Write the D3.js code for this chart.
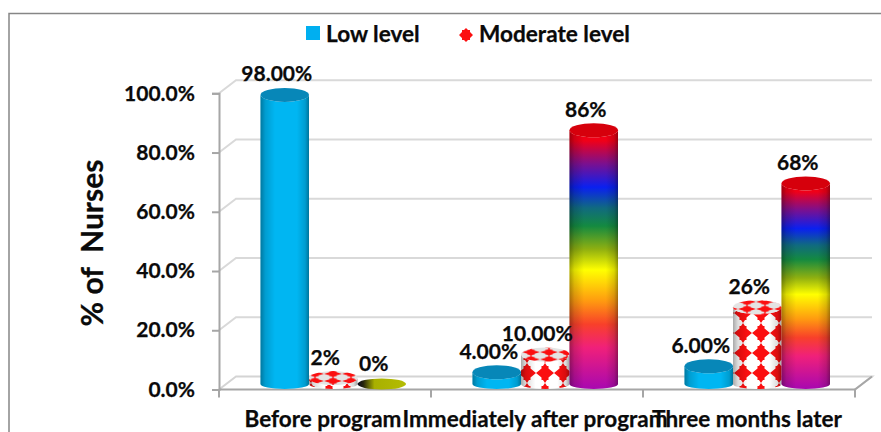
<!DOCTYPE html>
<html>
<head>
<meta charset="utf-8">
<script src="https://cdn.jsdelivr.net/npm/d3@7"></script>
<style>
  html, body { margin: 0; padding: 0; background: #fff; overflow: hidden; }
  text { font-family: Lato, "Open Sans", sans-serif; font-weight: 700; fill: #0a0a0a; stroke: #0a0a0a; stroke-width: 0.25px; }
</style>
</head>
<body>
<div id="chart"></div>
<script>
// Chart values
var categories = ["Before program", "Immediately after program", "Three months later"];
var lowLevel = [98, 4, 6];
var moderateLevel = [2, 10, 26];
var thirdLevel = [0, 86, 68];
var lowLabels = ["98.00%", "4.00%", "6.00%"];
var moderateLabels = ["2%", "10.00%", "26%"];
var thirdLabels = ["0%", "86%", "68%"];
var legendNames = ["Low level", "Moderate level"];
var yTicks = [0, 20, 40, 60, 80, 100];

var svgWidth = 881;
var svgHeight = 432;

var svg = d3.select("#chart")
  .append("svg")
  .attr("width", svgWidth)
  .attr("height", svgHeight)
  .style("display", "block");

var defs = svg.append("defs");

// Set up gradients and the diamond pattern
function addGradient(id, horizontal, stops) {
  var g = defs.append("linearGradient")
    .attr("id", id)
    .attr("x1", 0).attr("y1", 0)
    .attr("x2", horizontal ? 1 : 0).attr("y2", horizontal ? 0 : 1);
  stops.forEach(function(s) {
    g.append("stop")
      .attr("offset", s[0])
      .attr("stop-color", s[1])
      .attr("stop-opacity", s[2] === undefined ? 1 : s[2]);
  });
}

addGradient("shade", true, [
  [0, "#000", 0.34], [0.1, "#000", 0.14], [0.3, "#000", 0], [0.75, "#000", 0], [0.92, "#000", 0.14], [1, "#000", 0.36]
]);
addGradient("rainbow", false, [
  [0, "#f00010"], [0.04, "#f00018"], [0.13, "#7a1090"], [0.22, "#0a20f0"], [0.3, "#106a80"],
  [0.37, "#148a40"], [0.46, "#90b010"], [0.54, "#ffff00"], [0.66, "#ff9a10"], [0.75, "#f8402a"],
  [0.84, "#f0207a"], [1, "#a808b0"]
]);
addGradient("zeroFill", true, [
  [0, "#0a0a20"], [0.12, "#26240c"], [0.35, "#a8b000"], [1, "#b4bc04"]
]);

function addDiamonds(id, bg, transform) {
  var p = defs.append("pattern")
    .attr("id", id)
    .attr("patternUnits", "userSpaceOnUse")
    .attr("width", 18).attr("height", 20)
    .attr("patternTransform", transform);
  p.append("rect").attr("width", 18).attr("height", 20).attr("fill", bg);
  p.append("path")
    .attr("d", "M9,0L11,3L12.5,3L12.5,5.5L18,10L12.5,14.5L12.5,17L11,17L9,20L7,17L5.5,17L5.5,14.5L0,10L5.5,5.5L5.5,3L7,3Z")
    .attr("fill", "#fb0f10");
}
addDiamonds("diamonds", "#ffffff", "translate(14,3)");
addDiamonds("diamondsTop", "#e4e4e4", "translate(0,3) scale(1,0.36)");

// Scales
var axisLeftX = 219;
var axisRightX = 855;
var depthX = 17;
var depthY = 13;

var yScale = d3.scaleLinear().domain([0, 100]).range([389.5, 93.3]);
var barScale = d3.scaleLinear().domain([0, 100]).range([384, 89]);
var xBand = d3.scaleBand().domain(categories).range([axisLeftX, axisRightX]);
var seriesBand = d3.scaleBand().domain([0, 1, 2]).range([0, 145.5]);

// Outer frame, top and left only
svg.append("path")
  .attr("d", "M9,432V13.5H881")
  .attr("fill", "none")
  .attr("stroke", "#868686")
  .attr("stroke-width", 1.5);

// Back wall gridlines and side wall
var wall = svg.append("g").attr("fill", "none");
wall.selectAll(".grid")
  .data(yTicks.slice(1))
  .enter()
  .append("path")
  .attr("d", d => `M${axisLeftX},${yScale(d)}l${depthX},${-depthY}H${axisRightX + depthX}`)
  .attr("stroke", "#d9d9d9")
  .attr("stroke-width", 2);

// Floor
wall.append("path")
  .attr("d", `M${axisLeftX},${yScale(0)}l${depthX},${-depthY}H${axisRightX + depthX}l${-depthX},${depthY}`)
  .attr("stroke", "#d4d4d4")
  .attr("stroke-width", 2);
wall.append("path")
  .attr("d", `M${axisRightX},${yScale(0)}l${depthX},${-depthY}`)
  .attr("stroke", "#a6a6a6")
  .attr("stroke-width", 2);

// Y axis
var leftAxis = d3.axisLeft(yScale)
  .tickValues(yTicks)
  .tickSize(7)
  .tickPadding(17)
  .tickFormat(d => d.toFixed(1) + "%");
var yAxisGroup = svg.append("g")
  .attr("transform", `translate(${axisLeftX}, 0)`)
  .call(leftAxis);
yAxisGroup.attr("font-family", null).attr("font-size", null);
yAxisGroup.selectAll("line").attr("stroke", "#a6a6a6").attr("stroke-width", 2);
yAxisGroup.select(".domain").attr("stroke", "#a6a6a6").attr("stroke-width", 2);
yAxisGroup.selectAll("text").attr("font-size", 21);

// X axis, ticks sit on the band edges so labels get a separate tickless axis
svg.append("line")
  .attr("x1", axisLeftX).attr("x2", axisRightX)
  .attr("y1", yScale(0)).attr("y2", yScale(0))
  .attr("stroke", "#a6a6a6")
  .attr("stroke-width", 2);
svg.selectAll(".xedge")
  .data(d3.range(categories.length + 1))
  .enter()
  .append("line")
  .attr("x1", d => axisLeftX + d * xBand.step())
  .attr("x2", d => axisLeftX + d * xBand.step())
  .attr("y1", yScale(0))
  .attr("y2", yScale(0) + 8)
  .attr("stroke", "#a6a6a6")
  .attr("stroke-width", 2);

var bottomAxis = d3.axisBottom(xBand).tickSize(0).tickPadding(22);
var xAxisGroup = svg.append("g")
  .attr("transform", `translate(-2, ${yScale(0)})`)
  .call(bottomAxis);
xAxisGroup.attr("font-family", null).attr("font-size", null);
xAxisGroup.select(".domain").remove();
xAxisGroup.selectAll("text").attr("font-size", 22.5);

// Cylinders
var series = [
  { values: lowLevel, labels: lowLabels, side: "#00b6f2", top: "#0787b8" },
  { values: moderateLevel, labels: moderateLabels, side: "url(#diamonds)", top: "url(#diamondsTop)" },
  { values: thirdLevel, labels: thirdLabels, side: "url(#rainbow)", top: "#d6000c" }
];

var topRy = 7;
var bottomRy = 5;

function cylinderPath(x, w, yTop) {
  var rx = w / 2;
  return `M${x},${yTop}V${barScale(0)}A${rx},${bottomRy} 0 0 0 ${x + w},${barScale(0)}V${yTop}A${rx},${topRy} 0 0 1 ${x},${yTop}Z`;
}

function barX(catIndex, seriesIndex) {
  return xBand(categories[catIndex]) + 41.5 + seriesBand(seriesIndex);
}

var barsGroup = svg.append("g");
series.forEach(function(s, si) {
  s.values.forEach(function(v, ci) {
    var x = barX(ci, si);
    var w = seriesBand.bandwidth();
    var yTop = barScale(v);
    if (v === 0) {
      barsGroup.append("ellipse")
        .attr("cx", x + w / 2).attr("cy", yTop)
        .attr("rx", w / 2).attr("ry", 5.5)
        .attr("fill", "url(#zeroFill)");
      return;
    }
    var d = cylinderPath(x, w, yTop);
    barsGroup.append("path").attr("d", d).attr("fill", s.side);
    barsGroup.append("path").attr("d", d).attr("fill", "url(#shade)");
    barsGroup.append("ellipse")
      .attr("cx", x + w / 2).attr("cy", yTop)
      .attr("rx", w / 2).attr("ry", topRy)
      .attr("fill", s.top);
  });
});

// Value labels
series.forEach(function(s, si) {
  s.values.forEach(function(v, ci) {
    svg.append("text")
      .attr("x", barX(ci, si) + seriesBand.bandwidth() / 2 - 8)
      .attr("y", barScale(v) - 13.5)
      .attr("text-anchor", "middle")
      .attr("font-size", 21)
      .text(s.labels[ci]);
  });
});

// Axis title
svg.append("text")
  .attr("transform", "translate(103, 243) rotate(-90)")
  .attr("text-anchor", "middle")
  .attr("font-size", 30)
  .style("white-space", "pre")
  .text("% of  Nurses");

// Legend
svg.append("rect")
  .attr("x", 306).attr("y", 26)
  .attr("width", 14).attr("height", 14)
  .attr("fill", "#00aff0");
svg.append("text")
  .attr("x", 326).attr("y", 42)
  .attr("font-size", 22.6)
  .text(legendNames[0]);
svg.append("path")
  .attr("d", "M466,28L468,30L470,30L470,32L473,35L470,38L470,40L468,40L466,42L464,40L462,40L462,38L459,35L462,32L462,30L464,30Z")
  .attr("fill", "#fb0f10");
svg.append("text")
  .attr("x", 479).attr("y", 42)
  .attr("font-size", 22.6)
  .text(legendNames[1]);
</script>
</body>
</html>
